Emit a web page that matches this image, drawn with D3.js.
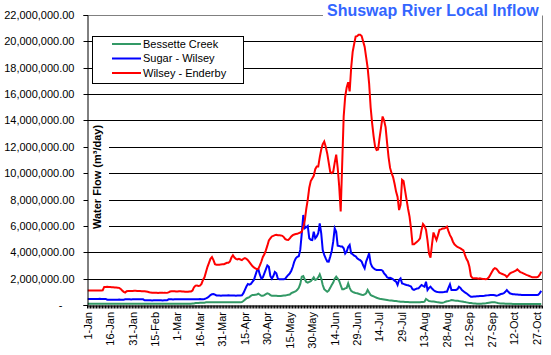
<!DOCTYPE html>
<html><head><meta charset="utf-8">
<script src="https://cdn.jsdelivr.net/npm/d3@7"></script>
<style>body{margin:0;background:#fff} text{font-family:"Liberation Sans",Arial,sans-serif}</style>
</head><body><svg id="c" width="551" height="355"></svg>
<script>
// ---- DATA (daily values, millions of m3/day, 1-Jan .. 31-Oct) ----
const seriesNames = ["Bessette Creek", "Sugar - Wilsey", "Wilsey - Enderby"];
const tickLabels = ["1-Jan","16-Jan","31-Jan","15-Feb","1-Mar","16-Mar","31-Mar","15-Apr","30-Apr","15-May","30-May","14-Jun","29-Jun","14-Jul","29-Jul","13-Aug","28-Aug","12-Sep","27-Sep","12-Oct","27-Oct"];
const yTickValues = [0,2e6,4e6,6e6,8e6,10e6,12e6,14e6,16e6,18e6,20e6,22e6];

const wilseyEnderby = [
1.1,1.1,1.1,1.1,1.1,1.1,1.1,1.1,1.1,1.1,1.12,
1.37,1.37,1.38,1.37,1.36,1.35,1.35,1.33,1.32,1.31,1.3,
1.22,1.1,1.0,0.95,
1.05,1.07,1.07,1.06,1.06,1.08,1.08,1.07,1.06,1.06,1.05,1.05,1.04,1.02,1.0,0.97,
0.94,0.93,0.93,0.93,0.93,0.92,0.93,0.93,0.93,0.92,0.92,0.93,0.96,
1.02,1.04,1.05,1.04,1.03,1.02,1.04,1.05,1.03,1.02,1.0,1.0,1.0,1.02,1.03,1.1,
1.35,1.47,1.48,1.45,1.47,1.6,
1.9,2.1,2.5,2.9,3.2,3.5,3.64,
3.4,3.1,3.05,3.05,3.05,3.08,3.1,3.1,3.15,3.2,3.2,3.3,
3.6,3.77,3.6,3.5,3.45,3.5,3.45,3.4,3.5,3.55,3.5,
3.4,3.25,3.1,2.95,2.85,2.78,2.72,2.75,
3.0,3.3,3.65,3.85,4.15,4.5,4.9,5.05,5.2,
5.25,5.3,5.32,5.3,5.3,5.28,5.25,5.15,5.0,4.95,
4.93,5.05,5.2,5.3,5.35,5.38,5.4,5.45,5.5,
5.56,5.9,6.4,7.3,8.0,8.9,9.4,9.6,9.8,10.3,10.5,10.5,11.2,11.8,
12.2,12.4,12.0,11.5,10.8,10.1,10.0,10.1,10.8,11.4,10.4,9.0,7.1,10.7,
14.3,15.8,16.5,16.9,16.2,18.0,19.2,19.8,20.36,20.4,20.5,20.5,20.4,
20.0,19.6,18.8,18.0,16.8,15.0,13.8,12.8,12.0,
11.76,11.8,12.7,13.5,14.3,14.0,13.5,12.3,11.2,10.4,
10.0,9.7,9.2,8.6,8.2,7.2,7.6,
9.5,9.4,8.7,8.0,7.3,6.7,5.8,4.6,4.6,
4.7,4.8,4.9,5.06,5.7,6.15,
6.0,5.7,4.9,3.9,3.6,4.6,5.5,5.2,
4.93,5.3,5.7,5.74,5.8,5.8,5.85,5.94,5.6,
5.3,5.1,4.8,4.6,4.5,4.4,4.35,4.3,4.22,
4.15,3.8,3.5,3.3,2.9,2.2,2.05,2.02,
2.02,2.02,2.0,2.02,2.0,1.98,1.97,1.95,2.0,2.1,
2.3,2.5,2.7,2.8,2.75,2.6,2.45,
2.4,2.35,2.3,2.25,2.13,2.25,2.38,2.45,2.5,
2.55,2.6,2.7,2.6,2.5,2.45,2.4,2.35,
2.28,2.25,2.2,2.15,2.1,2.1,2.1,2.1,2.15,2.3,2.53
];

const sugarWilsey = [
0.46,0.46,0.46,0.45,0.46,0.46,0.46,0.46,0.47,0.46,0.46,0.46,0.46,
0.4,0.4,0.4,0.39,0.4,0.4,0.4,0.4,0.41,0.4,0.4,0.4,
0.43,0.43,0.43,0.43,0.42,0.43,0.43,0.43,0.44,0.43,0.43,0.43,0.43,
0.36,0.36,0.36,0.36,0.36,0.35,0.36,0.36,0.36,0.36,0.36,0.36,0.35,0.36,0.36,0.36,
0.43,0.43,0.43,0.42,0.43,0.43,0.43,0.43,0.44,0.43,0.43,0.43,0.43,
0.44,0.44,0.44,0.43,0.44,0.44,0.44,0.44,0.45,0.44,0.44,0.46,0.5,
0.55,0.65,0.75,0.82,0.84,0.78,
0.72,0.72,0.72,0.71,0.72,0.72,0.72,0.72,0.73,0.72,0.72,0.72,0.72,0.71,0.72,0.72,0.72,0.74,
0.9,1.15,1.4,1.6,
1.55,1.6,1.75,1.9,2.25,2.6,2.7,
2.3,2.0,2.1,2.4,2.7,3.0,2.9,2.2,2.0,2.2,
2.5,2.4,2.0,1.95,1.95,1.95,1.95,2.0,2.15,2.28,
2.4,2.6,2.9,3.3,3.54,3.65,3.7,4.2,
5.44,6.83,5.82,5.9,6.0,5.06,4.95,4.93,5.56,
5.06,5.2,5.44,6.2,5.44,4.17,3.8,3.54,3.3,3.29,3.67,4.1,4.8,
5.82,5.56,4.5,4.48,4.43,4.43,4.3,3.9,
4.05,4.4,4.55,3.92,3.85,3.75,3.7,3.55,
3.46,3.4,3.29,3.0,2.78,3.29,3.6,3.92,3.16,2.9,2.78,2.7,
2.66,2.66,2.66,2.66,2.6,2.4,2.28,
2.1,2.05,2.07,2.02,1.95,1.85,1.77,1.52,1.9,2.02,
1.64,1.6,1.55,1.52,1.5,1.45,1.4,1.2,1.14,1.2,1.25,
1.26,1.4,1.52,1.45,1.39,1.77,1.14,1.3,1.39,1.25,1.14,1.05,1.01,0.98,
0.96,0.96,0.97,0.98,1.0,1.01,1.3,1.57,1.14,1.14,1.14,1.14,1.2,
1.39,1.3,1.14,1.05,0.95,0.89,0.8,0.7,0.63,0.63,0.64,
0.65,0.66,0.67,0.68,0.68,0.69,0.7,0.72,0.73,0.74,0.75,0.76,0.76,0.74,0.71,0.73,0.78,
0.83,0.85,0.9,1.0,1.14,1.0,0.89,0.85,0.82,0.81,
0.8,0.79,0.78,0.77,0.76,0.76,0.76,0.76,0.76,0.76,0.75,0.76,0.76,0.76,0.76,0.78,0.9,1.07
];

const bessetteCreek = [
0.1,0.1,0.1,0.1,0.1,0.1,0.1,0.1,0.1,0.1,0.1,0.1,0.1,0.1,0.1,0.1,0.1,0.1,0.1,0.1,
0.1,0.1,0.1,0.1,0.1,0.1,0.1,0.1,0.1,0.1,0.1,0.1,0.1,0.1,0.1,0.1,0.1,0.1,0.1,0.1,
0.1,0.1,0.1,0.1,0.1,0.1,0.1,0.1,0.1,0.1,0.1,0.1,0.1,0.1,0.1,0.1,0.1,0.1,0.1,0.1,
0.1,0.1,0.1,0.1,0.1,0.1,0.1,0.1,0.1,0.1,
0.12,0.12,0.15,0.15,0.15,0.17,0.18,0.18,0.18,0.2,
0.2,0.2,0.2,0.2,0.2,0.2,0.2,0.2,0.2,0.2,0.2,0.2,0.2,0.2,0.2,0.2,0.2,0.2,0.2,0.2,0.2,0.2,0.2,0.22,
0.3,0.4,0.5,0.55,0.6,0.7,
0.76,0.76,0.78,0.8,0.86,0.78,0.7,0.7,0.75,0.82,
0.88,0.85,0.75,0.7,0.7,0.7,0.7,0.68,0.68,0.68,0.7,0.72,0.72,0.75,0.78,
0.8,0.9,0.95,1.0,1.05,1.15,1.3,1.6,2.15,2.2,1.95,
1.75,1.7,1.75,1.8,1.95,2.1,1.9,1.95,2.1,2.33,
2.0,1.52,1.2,1.1,1.01,1.1,1.3,1.52,1.7,2.0,2.15,
2.0,1.82,1.5,1.2,1.2,1.26,1.3,1.64,1.3,1.07,
1.0,0.95,0.9,0.89,0.85,0.81,0.78,0.76,0.8,0.89,1.14,0.95,0.76,
0.7,0.65,0.6,0.55,0.51,0.48,0.46,0.44,0.42,0.4,0.38,0.36,0.35,0.34,0.32,0.3,0.3,0.28,0.27,0.25,
0.25,0.24,0.23,0.22,0.22,0.21,0.21,0.2,0.2,0.2,0.2,0.2,0.21,0.22,0.23,0.25,
0.46,0.38,0.3,0.28,0.27,0.26,0.25,0.22,0.2,0.19,
0.18,0.18,0.2,0.25,0.28,0.3,0.33,0.38,0.36,0.34,0.33,0.33,0.3,0.28,0.27,
0.25,0.22,0.2,0.18,0.16,0.15,0.13,0.12,0.11,0.1,0.1,0.1,
0.1,0.11,0.12,0.13,0.15,0.17,0.19,0.2,0.2,0.2,0.18,0.15,0.13,
0.12,0.12,0.11,0.1,0.1,0.1,0.09,0.09,0.08,0.08,
0.08,0.08,0.08,0.08,0.08,0.08,0.08,0.08,0.08,0.08,0.08,0.08,0.08,0.08,0.08,0.08,0.08,0.08
];

const seriesColors = ["#339966", "#0000ff", "#ff0000"];

// ---- CHART ----
const svg = d3.select("#c");
const L = 87, R = 542, T = 15, B = 305;
const nDays = wilseyEnderby.length;
const days = d3.range(nDays);
const x = d3.scaleBand().domain(days).range([L, R]).padding(0);
const bw = x.bandwidth();
const xEdge = d3.scaleLinear().domain([0, nDays]).range([L, R]);
const y = d3.scaleLinear().domain([0, 22e6]).range([B, T]);

svg.append("rect").attr("width", 551).attr("height", 355).attr("fill", "#fff");

// gridlines
svg.append("g").selectAll("line").data(yTickValues.filter(v => v > 0 && v < 22e6)).join("line")
  .attr("x1", L).attr("x2", R).attr("y1", d => Math.round(y(d)) + 0.5).attr("y2", d => Math.round(y(d)) + 0.5)
  .attr("stroke", "#000").attr("stroke-width", 1);

// plot border (top & right, gray)
const topY = Math.round(y(22e6)) + 0.5;
svg.append("line").attr("x1", L).attr("x2", 323).attr("y1", topY).attr("y2", topY).attr("stroke", "#808080");
svg.append("line").attr("x1", R + 0.5).attr("x2", R + 0.5).attr("y1", topY).attr("y2", B).attr("stroke", "#808080");

// y title with white background
svg.append("rect").attr("x", L + 1).attr("y", 123).attr("width", 21).attr("height", 110).attr("fill", "#fff");
svg.append("text").attr("transform", "translate(97.5,177) rotate(-90)")
  .attr("text-anchor", "middle").attr("dy", "0.35em")
  .style("font-size", "11px").style("font-weight", "bold").text("Water Flow (m³/day)");

// series
const line = d3.line().x((v, i) => x(i) + bw / 2).y(v => y(v * 1e6));
[bessetteCreek, sugarWilsey, wilseyEnderby].forEach((s, k) => {
  svg.append("path").datum(s).attr("d", line).attr("fill", "none")
    .attr("stroke", seriesColors[k]).attr("stroke-width", 2).attr("stroke-linejoin", "miter");
});

// y axis
const fmt = d3.format(",.2f");
const yAxis = svg.append("g").attr("transform", `translate(${L + 0.5},0)`)
  .call(d3.axisLeft(y).tickValues(yTickValues).tickSize(4).tickPadding(9)
    .tickFormat(v => v === 0 ? "-" : fmt(v)));
yAxis.select(".domain").attr("stroke", "#000");
yAxis.selectAll("text").style("font-size", "11px").style("font-family", '"Liberation Sans",Arial,sans-serif').attr("fill", "#000")
  .attr("x", d => d === 0 ? -25 : -13);
yAxis.selectAll(".tick line").attr("stroke", "#000");
yAxis.selectAll(".tick").attr("transform", d => `translate(0,${Math.round(y(d)) + 0.5})`);

// x axis ticks (category boundaries)
const xTicks = svg.append("g").attr("transform", `translate(0,${B + 0.5})`)
  .call(d3.axisBottom(xEdge).tickValues(d3.range(nDays + 1)).tickSize(3).tickSizeOuter(0).tickFormat(""));
xTicks.select(".domain").attr("stroke", "#000");
xTicks.selectAll(".tick line").attr("stroke", "#000");

// x labels
const xLab = svg.append("g").attr("transform", `translate(0,${B})`)
  .call(d3.axisBottom(x).tickValues(d3.range(0, nDays, 15)).tickSize(0)
    .tickFormat(i => tickLabels[i / 15]));
xLab.select(".domain").remove();
xLab.selectAll("text").style("font-size", "11px").style("font-family", '"Liberation Sans",Arial,sans-serif').attr("fill", "#000")
  .attr("transform", "rotate(-90)").attr("x", -7).attr("y", 0).attr("dy", "0.35em").style("text-anchor", "end");

// legend
const lg = svg.append("g");
lg.append("rect").attr("x", 92.5).attr("y", 36.5).attr("width", 151).attr("height", 47)
  .attr("fill", "#fff").attr("stroke", "#000");
seriesNames.forEach((n, k) => {
  const yy = 44 + k * 14.5;
  lg.append("line").attr("x1", 112).attr("x2", 141).attr("y1", yy).attr("y2", yy)
    .attr("stroke", seriesColors[k]).attr("stroke-width", 2);
  lg.append("text").attr("x", 143).attr("y", yy).attr("dy", "0.35em").style("font-size", "11px").text(n);
});

// title
svg.append("text").attr("x", 327).attr("y", 16).style("font-size", "16px").style("font-weight", "bold")
  .attr("fill", "#3366ff").text("Shuswap River Local Inflow");
</script></body></html>
